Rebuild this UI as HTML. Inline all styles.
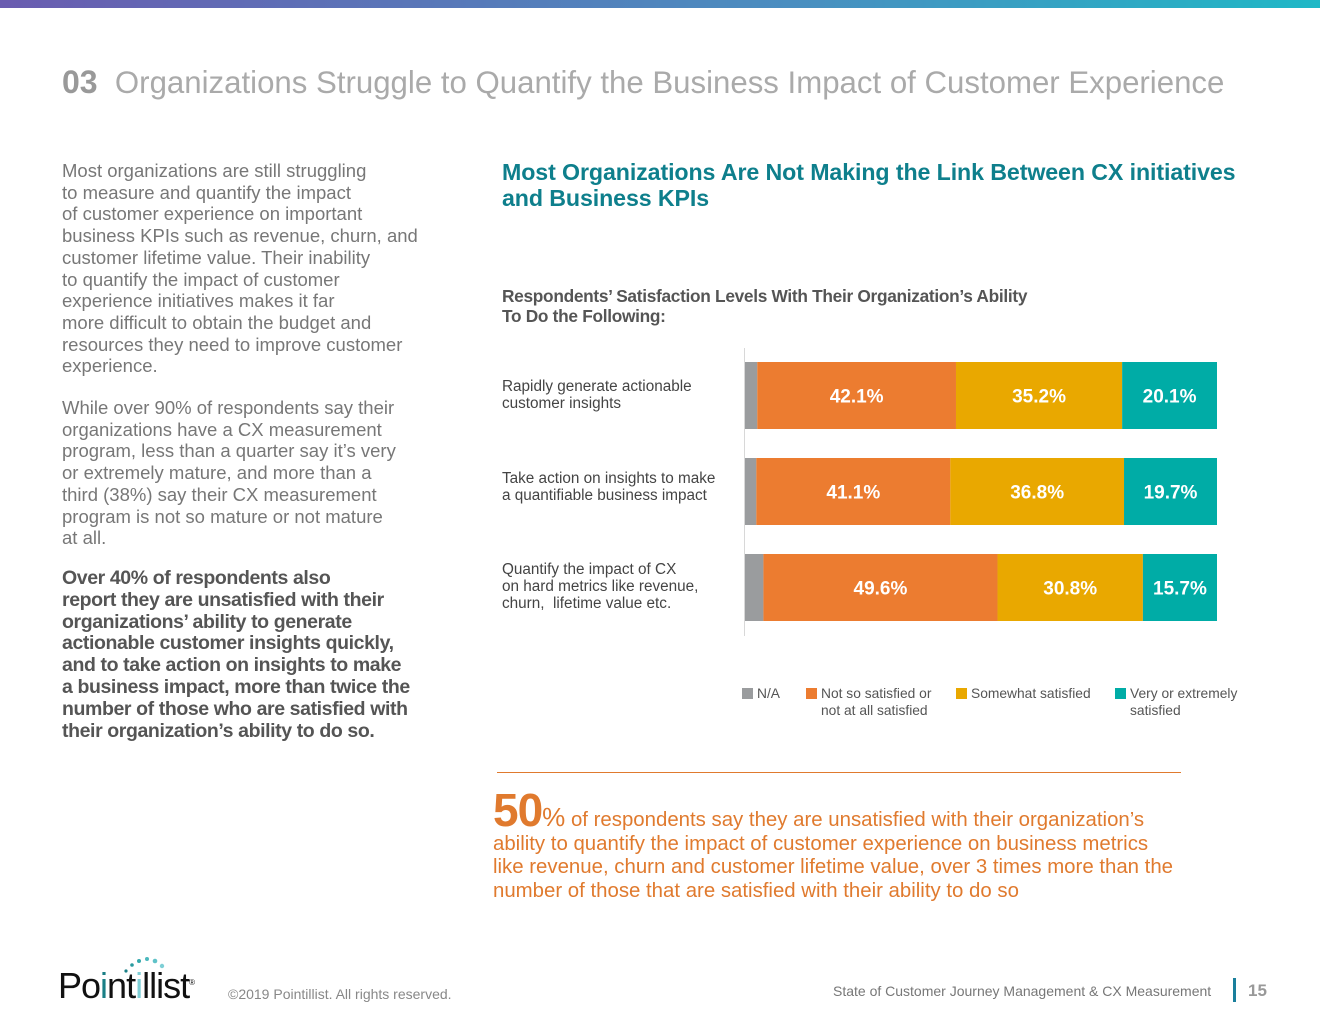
<!DOCTYPE html>
<html><head><meta charset="utf-8">
<style>
body{margin:0;width:1320px;height:1020px;position:relative;background:#fff;font-family:"Liberation Sans",sans-serif;overflow:hidden}
.a{position:absolute;white-space:nowrap}
.p{position:absolute;left:62px;font-size:18.5px;line-height:21.7px;color:#777;white-space:nowrap}
.b{position:absolute;left:62px;font-size:19.5px;line-height:21.8px;color:#555;font-weight:bold;letter-spacing:-0.4px;white-space:nowrap}
.lbl{position:absolute;left:502px;font-size:15.3px;line-height:17px;color:#444;white-space:nowrap}
.lg{position:absolute;font-size:13.8px;line-height:17px;color:#555;white-space:nowrap}
.sw{display:inline-block;width:11px;height:11px;vertical-align:-1px;margin-right:4px}
.c{position:absolute;left:493px;font-size:20.4px;line-height:23.3px;color:#e07a2e;white-space:nowrap}
</style></head><body>
<div style="position:absolute;left:0;top:0;width:1320px;height:8px;background:linear-gradient(90deg,#6a5cb0,#4a8ec0 60%,#1fb8c6)"></div>
<div class="a" style="left:62px;top:64px;font-size:31.2px;color:#aaa"><b style="color:#999;font-size:32px">03</b>&nbsp;&nbsp;Organizations Struggle to Quantify the Business Impact of Customer Experience</div>

<div class="p" style="top:160px">Most organizations are still struggling<br>to measure and quantify the impact<br>of customer experience on important<br>business KPIs such as revenue, churn, and<br>customer lifetime value. Their inability<br>to quantify the impact of customer<br>experience initiatives makes it far<br>more difficult to obtain the budget and<br>resources they need to improve customer<br>experience.</div>
<div class="p" style="top:397px">While over 90% of respondents say their<br>organizations have a CX measurement<br>program, less than a quarter say it’s very<br>or extremely mature, and more than a<br>third (38%) say their CX measurement<br>program is not so mature or not mature<br>at all.</div>
<div class="b" style="top:568px">Over 40% of respondents also<br>report they are unsatisfied with their<br>organizations’ ability to generate<br>actionable customer insights quickly,<br>and to take action on insights to make<br>a business impact, more than twice the<br>number of those who are satisfied with<br>their organization’s ability to do so.</div>

<div class="a" style="left:502px;top:159px;font-size:23.2px;line-height:26px;color:#0e7f8c;font-weight:bold;letter-spacing:-0.1px">Most Organizations Are Not Making the Link Between CX initiatives<br>and Business KPIs</div>
<div class="a" style="left:502px;top:286px;font-size:17.3px;line-height:20px;color:#555;font-weight:bold;letter-spacing:-0.3px">Respondents’ Satisfaction Levels With Their Organization’s Ability<br>To Do the Following:</div>

<div class="lbl" style="top:378px">Rapidly generate actionable<br>customer insights</div>
<div class="lbl" style="top:470px">Take action on insights to make<br>a quantifiable business impact</div>
<div class="lbl" style="top:561px">Quantify the impact of CX<br>on hard metrics like revenue,<br>churn,&nbsp; lifetime value etc.</div>

<svg id="chart" style="position:absolute;left:0;top:0" width="1320" height="1020"></svg>

<div class="lg" style="left:742px;top:685px"><span class="sw" style="background:#9a9c9e"></span>N/A</div>
<div class="lg" style="left:806px;top:685px"><span class="sw" style="background:#ec7c30"></span>Not so satisfied or<br><span style="margin-left:15px">not at all satisfied</span></div>
<div class="lg" style="left:956px;top:685px"><span class="sw" style="background:#e9a800"></span>Somewhat satisfied</div>
<div class="lg" style="left:1115px;top:685px"><span class="sw" style="background:#00aca6"></span>Very or extremely<br><span style="margin-left:15px">satisfied</span></div>

<div style="position:absolute;left:497px;top:772px;width:684px;height:1px;background:#e07a2e"></div>
<div class="c" style="top:790px"><span style="font-size:46px;font-weight:bold;line-height:40px;letter-spacing:-1px">50</span><span style="font-size:26px">%</span> of respondents say they are unsatisfied with their organization’s</div>
<div class="c" style="top:833px">ability to quantify the impact of customer experience on business metrics<br>like revenue, churn and customer lifetime value, over 3 times more than the<br>number of those that are satisfied with their ability to do so</div>

<div style="position:absolute;left:58px;top:953px;width:150px;height:52px">
<svg width="150" height="52" style="position:absolute;left:0;top:0">
<circle cx="68" cy="18" r="1.6" fill="#1a7f86"/><circle cx="74" cy="12" r="1.8" fill="#2a9a9f"/><circle cx="81" cy="8" r="2" fill="#36a9ad"/><circle cx="89" cy="6" r="2" fill="#4bb8bd"/><circle cx="97" cy="8" r="2.3" fill="#5fc2c8"/><circle cx="104" cy="13" r="2.2" fill="#7ecfd6"/>
</svg>
<div class="a" style="left:0;top:12px;font-size:36px;letter-spacing:-1px;color:#111">Po<span style="color:#1a7f86">i</span>nt<span style="color:#7ecfd6">i</span>ll<span>i</span>st<sup style="font-size:8px">®</sup></div>
</div>
<div class="a" style="left:228px;top:986px;font-size:14px;color:#888">©2019 Pointillist. All rights reserved.</div>
<div class="a" style="left:833px;top:983px;font-size:14px;color:#777">State of Customer Journey Management &amp; CX Measurement</div>
<div style="position:absolute;left:1233px;top:978px;width:3px;height:24px;background:#1a7f9c"></div>
<div class="a" style="left:1248px;top:981px;font-size:17px;font-weight:bold;color:#999">15</div>

<script>
const categories=["Rapidly generate actionable customer insights","Take action on insights to make a quantifiable business impact","Quantify the impact of CX on hard metrics"];
const naValues=[2.6,2.4,3.9];
const notSatisfied=[42.1,41.1,49.6];
const somewhat=[35.2,36.8,30.8];
const very=[20.1,19.7,15.7];
const seriesColors=["#9a9c9e","#ec7c30","#e9a800","#00aca6"];
const NS="http://www.w3.org/2000/svg";
const svg=document.getElementById('chart');
const x0=745,pxPerPct=4.72;
function xs(v){return v*pxPerPct;}
function yb(i){return 362+i*96;}
const barH=67;
const axis=document.createElementNS(NS,'line');


axis.setAttribute('x1',744.5);axis.setAttribute('x2',744.5);axis.setAttribute('y1',348);axis.setAttribute('y2',636);
axis.setAttribute('stroke','#d8d8d8');axis.setAttribute('stroke-width',1);
svg.appendChild(axis);
const series=[naValues,notSatisfied,somewhat,very];
const names=['na','not-satisfied','somewhat-satisfied','very-satisfied'];
categories.forEach((c,i)=>{
  let x=x0;
  series.forEach((s,k)=>{
    const w=xs(s[i]);
    const r=document.createElementNS(NS,'rect');
    
    
    r.setAttribute('x',x);r.setAttribute('y',yb(i));r.setAttribute('width',w);r.setAttribute('height',barH);
    r.setAttribute('fill',seriesColors[k]);
    svg.appendChild(r);
    if(k>0){
      const t=document.createElementNS(NS,'text');
      
      
      t.setAttribute('x',x+w/2);t.setAttribute('y',yb(i)+barH/2+7);
      t.setAttribute('text-anchor','middle');t.setAttribute('fill','#fff');
      t.setAttribute('font-size','19');t.setAttribute('font-weight','bold');
      t.setAttribute('font-family','Liberation Sans, sans-serif');
      t.textContent=s[i].toFixed(1)+'%';
      svg.appendChild(t);
    }
    x+=w;
  });
});
</script>
</body></html>
